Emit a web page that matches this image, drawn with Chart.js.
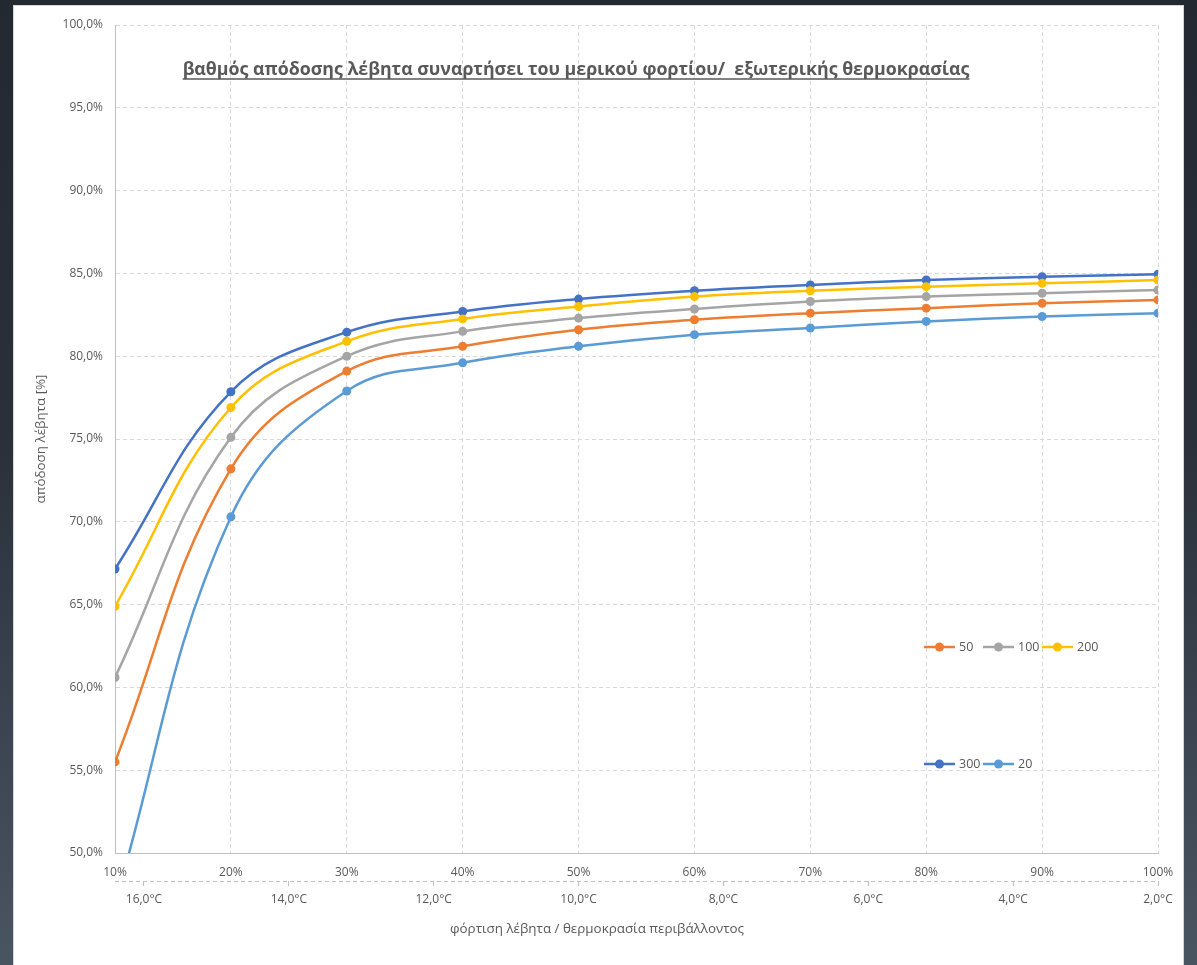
<!DOCTYPE html>
<html>
<head>
<meta charset="utf-8">
<script src="https://cdn.jsdelivr.net/npm/chart.js@4.4.0/dist/chart.umd.min.js"></script>
<style>
  html, body { margin: 0; padding: 0; }
  body {
    width: 1197px; height: 965px; overflow: hidden; position: relative;
    background: linear-gradient(to bottom, #222931 0%, #29303a 45%, #4a5562 100%);
  }
  #panel {
    position: absolute; left: 14px; top: 6px; width: 1169px; height: 959px;
    background: #fff; box-shadow: 0 0 0 1px #d6d6d6;
  }
  canvas { display: block; }
</style>
</head>
<body>
<div id="panel"><canvas id="eff-chart" width="1169" height="959"></canvas></div>
<script>
// data
const loadLabels = ['10%', '20%', '30%', '40%', '50%', '60%', '70%', '80%', '90%', '100%'];
const eff50  = [55.5, 73.2, 79.1, 80.6, 81.6, 82.2, 82.6, 82.9, 83.2, 83.4];
const eff100 = [60.6, 75.1, 80.0, 81.5, 82.3, 82.85, 83.3, 83.6, 83.8, 84.0];
const eff200 = [64.9, 76.9, 80.9, 82.25, 83.0, 83.6, 83.95, 84.2, 84.4, 84.6];
const eff300 = [67.15, 77.85, 81.45, 82.7, 83.45, 83.95, 84.3, 84.6, 84.8, 84.95];
const eff20  = [47.0, 70.3, 77.9, 79.6, 80.6, 81.3, 81.7, 82.1, 82.4, 82.6];
const tempMin = 2, tempMax = 16.4, tempStep = 2;

const txt = '#595959';
const fam = '"Open Sans", "Noto Sans", sans-serif';
const fmt = v => v.toFixed(1).replace('.', ',');

function series(label, data, color) {
  return {
    label: label, data: data,
    borderColor: color, backgroundColor: color,
    borderWidth: 2.5, tension: 0.4,
    pointRadius: 4.5, pointHoverRadius: 4.5, pointBorderWidth: 0,
    clip: 0
  };
}

const data = {
  labels: loadLabels,
  datasets: [
    series('50', eff50, '#ED7D31'),
    series('100', eff100, '#A5A5A5'),
    series('200', eff200, '#FFC000'),
    series('300', eff300, '#4472C4'),
    series('20', eff20, '#5B9BD5')
  ]
};

// title, x title, legend inside plot, dashed secondary axis line
const extras = {
  id: 'extras',
  afterDraw(chart) {
    const ctx = chart.ctx;
    const area = chart.chartArea;
    ctx.save();

    // dashed temperature axis line
    const x2 = chart.scales.x2;
    ctx.strokeStyle = '#bfbfbf';
    ctx.lineWidth = 1;
    ctx.setLineDash([4, 3]);
    ctx.beginPath();
    ctx.moveTo(area.left, x2.top + 0.5);
    ctx.lineTo(area.right, x2.top + 0.5);
    ctx.stroke();
    ctx.setLineDash([]);

    // chart title (underlined)
    const title = 'βαθμός απόδοσης λέβητα συναρτήσει του μερικού φορτίου/  εξωτερικής θερμοκρασίας';
    ctx.font = 'bold 18px ' + fam;
    let w = ctx.measureText(title).width;
    const size = 18 * 787 / w;
    ctx.font = 'bold ' + size.toFixed(2) + 'px ' + fam;
    w = ctx.measureText(title).width;
    const tx = area.left + 461, ty = area.top + 45;
    ctx.fillStyle = txt;
    ctx.textAlign = 'center';
    ctx.textBaseline = 'middle';
    ctx.fillText(title, tx, ty);
    ctx.strokeStyle = txt;
    ctx.lineWidth = 1.3;
    ctx.beginPath();
    ctx.moveTo(tx - w / 2, ty + 9);
    ctx.lineTo(tx + w / 2, ty + 9);
    ctx.stroke();

    // x axis title
    ctx.font = '13.4px ' + fam;
    ctx.fillText('φόρτιση λέβητα / θερμοκρασία περιβάλλοντος', area.left + 482, x2.top + 48);

    // legend, two rows
    const rows = [[0, 1, 2], [3, 4]];
    const rowY = [area.top + 622, area.top + 739];
    ctx.font = '12.5px ' + fam;
    ctx.textAlign = 'left';
    rows.forEach((row, r) => {
      row.forEach((di, k) => {
        const ds = chart.data.datasets[di];
        const x0 = area.left + 809 + k * 59;
        const y0 = rowY[r];
        ctx.strokeStyle = ds.borderColor;
        ctx.lineWidth = 2.5;
        ctx.beginPath();
        ctx.moveTo(x0, y0);
        ctx.lineTo(x0 + 31, y0);
        ctx.stroke();
        ctx.fillStyle = ds.borderColor;
        ctx.beginPath();
        ctx.arc(x0 + 15.5, y0, 4.5, 0, Math.PI * 2);
        ctx.fill();
        ctx.fillStyle = txt;
        ctx.fillText(ds.label, x0 + 35, y0 + 0.5);
      });
    });
    ctx.restore();
  }
};

const config = {
  type: 'line',
  data: data,
  plugins: [extras],
  options: {
    responsive: false,
    animation: false,
    layout: { padding: { left: 0, right: 25, top: 19, bottom: 0 } },
    plugins: {
      legend: { display: false },
      tooltip: { enabled: false }
    },
    scales: {
      x: {
        type: 'category',
        position: 'bottom',
        offset: false,
        grid: { color: '#d9d9d9', drawTicks: false },
        border: { color: '#bfbfbf', dash: [4, 3] },
        ticks: { color: txt, font: { size: 12, family: fam }, padding: 12, maxRotation: 0, autoSkip: false },
        afterFit: s => { s.height = 28; s.paddingLeft = 0; s.paddingRight = 0; }
      },
      x2: {
        type: 'linear',
        position: 'bottom',
        reverse: true,
        min: tempMin,
        max: tempMax,
        grid: { drawOnChartArea: false, color: '#bfbfbf', tickLength: 5 },
        border: { display: false },
        ticks: {
          stepSize: tempStep, includeBounds: false, color: txt,
          font: { size: 12, family: fam }, padding: 6,
          callback: v => fmt(v) + '°C'
        },
        afterFit: s => { s.height = 84; s.paddingLeft = 0; s.paddingRight = 0; }
      },
      y: {
        min: 50,
        max: 100,
        grid: { color: '#d9d9d9', drawTicks: false },
        border: { color: '#bfbfbf', dash: [4, 3] },
        ticks: {
          stepSize: 5, color: txt, padding: 12,
          font: { size: 12, family: fam },
          callback: v => fmt(v) + '%'
        },
        title: {
          display: true, text: 'απόδοση λέβητα [%]', color: txt,
          font: { size: 13.4, family: fam }, padding: { top: 19 }
        },
        afterFit: s => { s.width = 101; s.paddingTop = 0; s.paddingBottom = 0; }
      }
    }
  }
};

const ctx = document.getElementById('eff-chart').getContext('2d');
window.effChart = new Chart(ctx, config);
</script>
</body>
</html>
